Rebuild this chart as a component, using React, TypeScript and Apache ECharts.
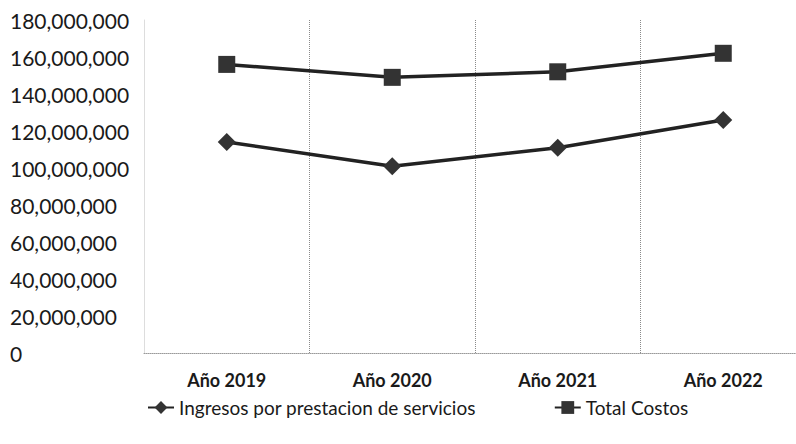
import React, { useEffect, useRef } from "react";
import * as echarts from "echarts";

const categories = ["Año 2019", "Año 2020", "Año 2021", "Año 2022"];
const ingresos = [114000000, 101000000, 111000000, 126000000];
const costos = [156000000, 149000000, 152000000, 162000000];
const seriesNames = ["Ingresos por prestacion de servicios", "Total Costos"];

export default function App() {
  const ref = useRef<HTMLDivElement>(null);
  useEffect(() => {
    if (!ref.current) return;
    const chart = echarts.init(ref.current, null, { renderer: "svg" });
    const font = "Lato, 'Open Sans', sans-serif";
    chart.setOption({
      animation: false,
      backgroundColor: "#ffffff",
      grid: {
        left: 144,
        width: 662,
        top: 20,
        bottom: 91,
        containLabel: false,
        outerBoundsMode: "none",
      },
      xAxis: {
        type: "category",
        data: categories,
        boundaryGap: true,
        axisLine: { show: true, lineStyle: { color: "#9a9a9a", type: "dotted", width: 1 } },
        axisTick: { show: false },
        axisLabel: { color: "#1a1a1a", fontSize: 18, fontWeight: "bold", fontFamily: font, margin: 18 },
        splitLine: { show: true, lineStyle: { color: "#8a8a8a", type: "dotted", width: 1 } },
      },
      yAxis: {
        type: "value",
        min: 0,
        max: 180000000,
        interval: 20000000,
        axisLine: { show: true, lineStyle: { color: "#dddddd", width: 1 } },
        axisTick: { show: false },
        splitLine: { show: false },
        axisLabel: {
          color: "#1a1a1a",
          fontSize: 21,
          fontFamily: font,
          align: "left",
          margin: 134,
          formatter: (v: number) => v.toLocaleString("en-US"),
        },
      },
      legend: {
        top: 393,
        left: 142,
        itemWidth: 26,
        itemHeight: 16,
        itemGap: 78,
        textStyle: { color: "#1a1a1a", fontSize: 19, fontFamily: font },
        data: seriesNames,
      },
      series: [
        {
          name: seriesNames[0],
          type: "line",
          data: ingresos,
          symbol: "diamond",
          symbolSize: 18,
          lineStyle: { color: "#222", width: 3.5 },
          itemStyle: { color: "#333" },
        },
        {
          name: seriesNames[1],
          type: "line",
          data: costos,
          symbol: "rect",
          symbolSize: 17,
          lineStyle: { color: "#222", width: 3.5 },
          itemStyle: { color: "#333" },
        },
      ],
    });
    return () => chart.dispose();
  }, []);
  return (
    <div
      ref={ref}
      style={{ position: "absolute", left: 0, top: 0, width: 796, height: 444 }}
    />
  );
}
